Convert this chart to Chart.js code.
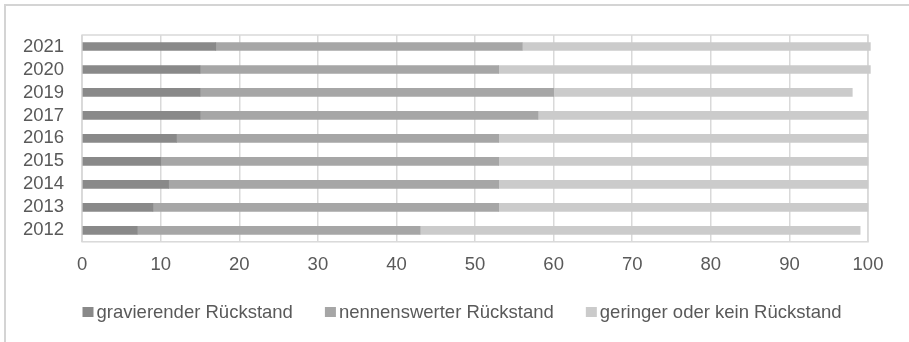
<!DOCTYPE html>
<html>
<head>
<meta charset="utf-8">
<script src="https://cdn.jsdelivr.net/npm/chart.js@4"></script>
<style>
  html, body { margin: 0; padding: 0; background: #ffffff; }
  #wrap { position: relative; width: 909px; height: 342px; overflow: hidden; }
  #frame { position: absolute; left: 4px; top: 4px; width: 1000px; height: 400px;
           border-top: 2px solid #d4d4d4; border-left: 2px solid #d4d4d4; pointer-events: none; }
  canvas { position: absolute; left: 0; top: 0; }
</style>
</head>
<body>
<div id="wrap">
  <canvas id="c" width="909" height="342"></canvas>
  <div id="frame"></div>
</div>
<script>
// Years (top to bottom) and shares per category, in percent
const years = ['2021', '2020', '2019', '2017', '2016', '2015', '2014', '2013', '2012'];
const gravierend = [17, 15, 15, 15, 12, 10, 11, 9, 7];
const nennenswert = [39, 38, 45, 43, 41, 43, 42, 44, 36];
const gering = [44.3, 47.3, 38, 42, 47, 47, 47, 47, 56];
const seriesNames = ['gravierender Rückstand', 'nennenswerter Rückstand', 'geringer oder kein Rückstand'];
const seriesColors = ['#898989', '#a6a6a6', '#cbcbcb'];

const FONT = 'Liberation Sans, Arial, sans-serif';
const FONT_SIZE = 18.5;
const TEXT = '#595959';
const GRID = '#d9d9d9';

// Frame around the plotting area
const plotBorder = {
  id: 'plotBorder',
  beforeDatasetsDraw(chart) {
    const { ctx, chartArea: a } = chart;
    ctx.save();
    ctx.strokeStyle = GRID;
    ctx.lineWidth = 1.5;
    ctx.strokeRect(a.left, a.top, a.right - a.left, a.bottom - a.top);
    ctx.restore();
  }
};

// Compact legend row: small square, tight gap, label text
const rowLegend = {
  id: 'rowLegend',
  afterDraw(chart) {
    const { ctx } = chart;
    const box = 11, boxH = 10, gap = 3, itemGap = 32, centerX = 462, y = 312;
    ctx.save();
    ctx.font = FONT_SIZE + 'px ' + FONT;
    const items = chart.data.datasets.map(ds => ({
      text: ds.label, color: ds.backgroundColor, w: ctx.measureText(ds.label).width
    }));
    const total = items.reduce((s, it) => s + box + gap + it.w, 0) + itemGap * (items.length - 1);
    let x = centerX - total / 2;
    ctx.textBaseline = 'middle';
    ctx.textAlign = 'left';
    items.forEach(it => {
      ctx.fillStyle = it.color;
      ctx.fillRect(x, y - boxH / 2, box, boxH);
      ctx.fillStyle = TEXT;
      ctx.fillText(it.text, x + box + gap, y + 1);
      x += box + gap + it.w + itemGap;
    });
    ctx.restore();
  }
};

const seriesData = [gravierend, nennenswert, gering];

new Chart(document.getElementById('c'), {
  type: 'bar',
  data: {
    labels: years,
    datasets: seriesNames.map((name, i) => ({
      label: name,
      data: seriesData[i],
      backgroundColor: seriesColors[i],
      borderWidth: 0,
      barThickness: 8,
      clip: false
    }))
  },
  options: {
    indexAxis: 'y',
    responsive: false,
    animation: false,
    events: [],
    layout: { padding: { left: 5, right: 41, top: 35, bottom: 54 } },
    plugins: {
      legend: { display: false },
      tooltip: { enabled: false }
    },
    scales: {
      x: {
        stacked: true,
        min: 0,
        max: 100,
        ticks: { stepSize: 10, color: TEXT, font: { family: FONT, size: FONT_SIZE }, padding: 12, maxRotation: 0 },
        grid: { color: GRID, lineWidth: 1.5, drawTicks: false },
        border: { display: false }
      },
      y: {
        stacked: true,
        ticks: { color: TEXT, font: { family: FONT, size: FONT_SIZE }, padding: 18, autoSkip: false },
        grid: { display: false, drawTicks: false },
        border: { display: false }
      }
    }
  },
  plugins: [plotBorder, rowLegend]
});
</script>
</body>
</html>
